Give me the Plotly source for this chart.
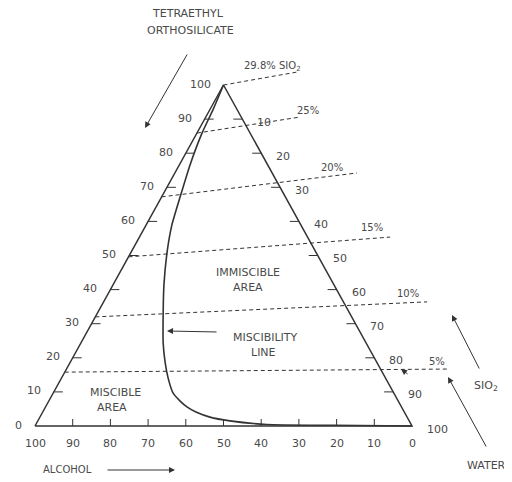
import plotly.graph_objects as go

# ---------------- data (ternary, in %) ----------------
tick_values = [0, 10, 20, 30, 40, 50, 60, 70, 80, 90, 100]
right_tick_values = [10, 20, 30, 40, 50, 60, 70, 80, 90, 100]
ticks_inner = [10, 20, 30, 40, 50, 60, 70, 80, 90]

# miscibility line: TEOS % and water % (alcohol = rest)
curve_teos = [100, 92.7, 85.9, 76.5, 67.2, 58.9, 50.7, 41.3, 33.1, 24.3, 18.8, 14.1,
              9.7, 7.3, 5.6, 4.1, 2.6, 1.5, 0.44, 0.2, 0]
curve_water = [0, 0.85, 1.35, 2.85, 4.9, 6.85, 9.65, 13.55, 17.45, 21.85, 25.1, 28.25,
               31.75, 34.85, 37.5, 40.65, 45.1, 50.95, 61.3, 78.9, 100]

# iso-SiO2 dashed lines: start on the alcohol/TEOS edge, end beyond the right edge
sio2_labels = ["29.8% SIO<sub>2</sub>", "25%", "20%", "15%", "10%", "5%"]
sio2_teos_left = [100, 85.9, 67.2, 49.6, 32.0, 15.8]
sio2_teos_right = [103.8, 90.6, 74.2, 55.4, 36.4, 16.7]
sio2_water_right = [17.6, 25.0, 48.3, 66.5, 85.8, 101.1]

K = 0.5  # ternary -> cartesian skew


def xy(teos, water):
    return water + K * teos, teos


INK = "#333333"
TXT = "#4a4a4a"
FONT = "DejaVu Sans"

# page offset (default body margin of the html page)
OFF = 8
W, H = 512 - OFF, 482 - OFF

fig = go.Figure()

# triangle
tri_t = [0, 100, 0, 0]
tri_w = [0, 0, 100, 0]
tx, ty = zip(*[xy(t, w) for t, w in zip(tri_t, tri_w)])
fig.add_trace(go.Scatter(x=tx, y=ty, mode="lines", line=dict(color=INK, width=1.5),
                         hoverinfo="skip", showlegend=False))

# tick marks
px_x = 3.77  # pixels per x unit
px_y = 3.41  # pixels per y unit
tl = 9
lx, ly, rx, ry, bx, by = [], [], [], [], [], []
for v in ticks_inner:
    x0, y0 = xy(v, 0)           # TEOS edge
    lx += [x0, x0 + tl / px_x, None]
    ly += [y0, y0, None]
    x1, y1 = xy(100 - v, v)     # water edge
    rx += [x1, x1 - tl / px_x, None]
    ry += [y1, y1, None]
    x2, y2 = xy(0, 100 - v)     # alcohol (bottom) edge, alcohol = v
    bx += [x2, x2, None]
    by += [y2, y2 + 7 / px_y, None]
fig.add_trace(go.Scatter(x=lx + rx + bx, y=ly + ry + by, mode="lines",
                         line=dict(color=INK, width=1), hoverinfo="skip", showlegend=False))

# dashed SiO2 lines
for tl_, tr_, wr_ in zip(sio2_teos_left, sio2_teos_right, sio2_water_right):
    xa, ya = xy(tl_, 0)
    xb, yb = xy(tr_, wr_)
    fig.add_trace(go.Scatter(x=[xa, xb], y=[ya, yb], mode="lines",
                             line=dict(color=INK, width=1, dash="4px,3px"),
                             hoverinfo="skip", showlegend=False))

# miscibility line
cx, cy = zip(*[xy(t, w) for t, w in zip(curve_teos, curve_water)])
fig.add_trace(go.Scatter(x=cx, y=cy, mode="lines",
                         line=dict(color=INK, width=1.6, shape="spline", smoothing=0.5),
                         hoverinfo="skip", showlegend=False))

ann = []
tf = dict(family=FONT, size=11, color=TXT)
# tick labels
for v in tick_values:
    x0, y0 = xy(v, 0)
    ann.append(dict(x=x0, y=y0, text=str(v), showarrow=False, xanchor="right",
                    yanchor="middle", xshift=-11, yshift=1, font=tf))
    x2, y2 = xy(0, 100 - v)
    ann.append(dict(x=x2, y=y2, text=str(v), showarrow=False, xanchor="center",
                    yanchor="middle", yshift=-17, font=tf))
for v in right_tick_values:
    x1, y1 = xy(100 - v, v)
    ann.append(dict(x=x1, y=y1, text=str(v), showarrow=False, xanchor="left",
                    yanchor="middle", xshift=13, yshift=-3, font=tf))


def P(px, py):
    return (px - OFF) / W, 1 - (py - OFF) / H


def label(text, px, py, size=11):
    x, y = P(px, py)
    ann.append(dict(x=x, y=y, xref="paper", yref="paper", text=text, showarrow=False,
                    xanchor="center", yanchor="middle",
                    font=dict(family=FONT, size=size, color=TXT)))


def arrow(hx, hy, tx_, ty_):
    x, y = P(hx, hy)
    ann.append(dict(x=x, y=y, xref="paper", yref="paper", ax=tx_ - hx, ay=ty_ - hy,
                    axref="pixel", ayref="pixel", text="", showarrow=True,
                    arrowhead=2, arrowsize=1.2, arrowwidth=1, arrowcolor=INK))


sio2_pos = [(272, 66), (308, 110), (332, 167), (372, 227), (408, 293), (437, 361)]
for t, (px, py) in zip(sio2_labels, sio2_pos):
    label(t, px, py, size=10)

label("TETRAETHYL", 188, 14)
label("ORTHOSILICATE", 190, 31)
label("IMMISCIBLE", 248, 272)
label("AREA", 248, 287)
label("MISCIBILITY", 265, 337)
label("LINE", 263, 352)
label("MISCIBLE", 115, 392)
label("AREA", 112, 407)
label("SIO<sub>2</sub>", 486, 386)
label("WATER", 486, 465)
label("ALCOHOL", 67, 469, size=10)

arrow(145, 128, 188, 53)
arrow(452, 315, 480, 370)
arrow(448, 377, 487, 448)
arrow(175, 470, 106, 470)
arrow(167, 331, 218, 332)
arrow(401, 369, 409, 375)

fig.update_layout(
    width=W, height=H, autosize=False,
    margin=dict(l=0, r=0, t=0, b=0),
    paper_bgcolor="white", plot_bgcolor="white",
    xaxis=dict(range=[-(35 - OFF) / px_x, (W - (35 - OFF)) / px_x],
               visible=False, fixedrange=True),
    yaxis=dict(range=[-(H - (426 - OFF)) / px_y, (426 - OFF) / px_y],
               visible=False, fixedrange=True),
    annotations=ann,
    showlegend=False,
)

fig.write_html("out.html")
